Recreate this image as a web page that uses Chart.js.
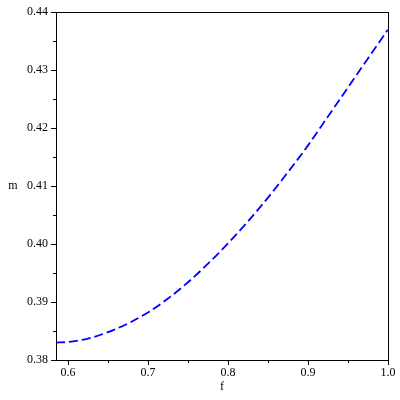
<!DOCTYPE html>
<html>
<head>
<meta charset="utf-8">
<script src="https://cdn.jsdelivr.net/npm/chart.js@4"></script>
<style>
  html, body { margin: 0; padding: 0; background: #fff; }
  #wrap { width: 400px; height: 400px; }
</style>
</head>
<body>
<div id="wrap"><canvas id="plot"></canvas></div>
<script>
// values
var fVals = [0.585, 0.6, 0.625, 0.65, 0.675, 0.7, 0.725, 0.75, 0.775, 0.8, 0.825, 0.85, 0.875, 0.9, 0.925, 0.95, 0.975, 1.0];
var mVals = [0.3830, 0.3831, 0.3837, 0.3848, 0.3863, 0.3882, 0.3906, 0.3934, 0.3966, 0.4001, 0.4039, 0.4080, 0.4124, 0.4170, 0.4220, 0.4270, 0.4320, 0.4370];
var xLabel = 'f';
var yLabel = 'm';

var font = { family: "'Liberation Serif', 'Times New Roman', serif", size: 12 };
var black = '#000';

var points = fVals.map(function (f, i) { return { x: f, y: mVals[i] }; });

function isMajor(v, mult) {
    return Math.abs(v * mult - Math.round(v * mult)) < 1e-6;
}

// box around the plot, Maple-style ticks (long major, short minor) and axis names
var frame = {
    id: 'frame',
    afterDraw: function (chart) {
        var ctx = chart.ctx, a = chart.chartArea;
        var xs = chart.scales.x, ys = chart.scales.y;
        ctx.save();
        ctx.strokeStyle = black;
        ctx.lineWidth = 1;
        ctx.strokeRect(Math.round(a.left) + 0.5, Math.round(a.top) + 0.5,
            Math.round(a.right - a.left), Math.round(a.bottom - a.top));
        ctx.beginPath();
        xs.ticks.forEach(function (t) {
            var px = Math.round(xs.getPixelForValue(t.value)) + 0.5;
            var len = isMajor(t.value, 10) ? 5 : 3;
            ctx.moveTo(px, a.bottom);
            ctx.lineTo(px, a.bottom + len);
        });
        ys.ticks.forEach(function (t) {
            var py = Math.round(ys.getPixelForValue(t.value)) + 0.5;
            var len = isMajor(t.value, 100) ? 5 : 3;
            ctx.moveTo(a.left, py);
            ctx.lineTo(a.left - len, py);
        });
        ctx.stroke();
        ctx.fillStyle = black;
        ctx.font = '12px ' + font.family;
        ctx.textAlign = 'center';
        ctx.textBaseline = 'middle';
        ctx.fillText(yLabel, 13, (a.top + a.bottom) / 2);
        ctx.fillText(xLabel, (a.left + a.right) / 2, 387);
        ctx.restore();
    }
};

new Chart(document.getElementById('plot').getContext('2d'), {
    type: 'line',
    data: {
        datasets: [{
            data: points,
            borderColor: '#0000ff',
            borderWidth: 1.8,
            borderDash: [9, 4],
            pointRadius: 0,
            fill: false,
            cubicInterpolationMode: 'monotone'
        }]
    },
    options: {
        responsive: true,
        maintainAspectRatio: false,
        animation: false,
        layout: { padding: { top: 12, right: 12, left: 0, bottom: 0 } },
        plugins: { legend: { display: false }, tooltip: { enabled: false } },
        scales: {
            x: {
                type: 'linear',
                min: 0.585,
                max: 1.0,
                afterFit: function (s) {
                    s.height = 40;
                    s.paddingLeft = 0;
                    s.paddingRight = 0;
                },
                grid: { display: true, drawOnChartArea: false, drawTicks: false },
                border: { display: true, color: black, width: 1 },
                ticks: {
                    stepSize: 0.05,
                    includeBounds: false,
                    autoSkip: false,
                    maxRotation: 0,
                    padding: 6,
                    color: black,
                    font: font,
                    callback: function (v) { return isMajor(v, 10) ? v.toFixed(1) : ''; }
                }
            },
            y: {
                type: 'linear',
                min: 0.38,
                max: 0.44,
                afterFit: function (s) {
                    s.width = 56;
                    s.paddingTop = 0;
                    s.paddingBottom = 0;
                },
                grid: { display: true, drawOnChartArea: false, drawTicks: false },
                border: { display: true, color: black, width: 1 },
                ticks: {
                    stepSize: 0.005,
                    includeBounds: false,
                    autoSkip: false,
                    padding: 8,
                    color: black,
                    font: font,
                    callback: function (v) { return isMajor(v, 100) ? v.toFixed(2) : ''; }
                }
            }
        }
    },
    plugins: [frame]
});
</script>
</body>
</html>
